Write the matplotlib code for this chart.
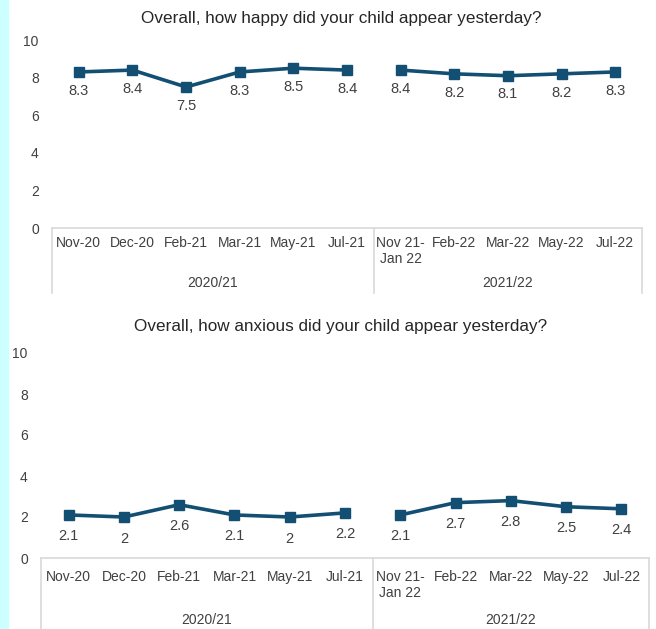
import matplotlib
matplotlib.use('Agg')
import matplotlib.pyplot as plt

plt.rcParams['font.family'] = ['Liberation Sans', 'DejaVu Sans']

# survey waves, split by school year
waves_2021 = ['Nov-20', 'Dec-20', 'Feb-21', 'Mar-21', 'May-21', 'Jul-21']
waves_2122 = ['Nov 21-\nJan 22', 'Feb-22', 'Mar-22', 'May-22', 'Jul-22']
year_labels = ['2020/21', '2021/22']

happy_2021 = [8.3, 8.4, 7.5, 8.3, 8.5, 8.4]
happy_2122 = [8.4, 8.2, 8.1, 8.2, 8.3]
anxious_2021 = [2.1, 2, 2.6, 2.1, 2, 2.2]
anxious_2122 = [2.1, 2.7, 2.8, 2.5, 2.4]

titles = ['Overall, how happy did your child appear yesterday?',
          'Overall, how anxious did your child appear yesterday?']

LINE = '#134f73'
TEXT = '#404040'
GRID = '#d9d9d9'

W, H = 656, 629
fig = plt.figure(figsize=(W / 100, H / 100), dpi=100)
fig.patch.set_facecolor('white')

# thin cyan strip down the left edge
fig.patches.append(plt.Rectangle((0, 0), 8 / W, 1, transform=fig.transFigure,
                                 color='#ccffff', zorder=0))


def draw_panel(rect_px, title, vals_a, vals_b, title_y, box_bottom_px, label_off,
               cat_y, year_y):
    left, top, right, bottom = rect_px
    ax = fig.add_axes([left / W, 1 - bottom / H, (right - left) / W, (bottom - top) / H])
    ax_h = bottom - top

    cats = waves_2021 + waves_2122
    xa = list(range(len(vals_a)))
    xb = list(range(len(vals_a), len(cats)))

    for xs, vs in ((xa, vals_a), (xb, vals_b)):
        ax.plot(xs, vs, color=LINE, lw=2.6, marker='s', ms=7, zorder=3, clip_on=False)
        for x, v in zip(xs, vs):
            ax.annotate(f'{v:g}', (x, v), xytext=(0, -label_off), textcoords='offset points',
                        ha='center', va='center', fontsize=10.5, color=TEXT)

    ax.set_xlim(-0.5, len(cats) - 0.5)
    ax.set_ylim(0, 10)
    ax.set_yticks(range(0, 11, 2))
    ax.tick_params(axis='y', length=0, labelsize=10, labelcolor=TEXT, pad=9.5)
    ax.set_xticks([])
    for s in ['top', 'right', 'left']:
        ax.spines[s].set_visible(False)
    ax.spines['bottom'].set_color(GRID)
    ax.spines['bottom'].set_linewidth(1.2)

    # category labels and year groups beneath the axis
    def fy(px):
        return -px / ax_h

    tr = ax.get_xaxis_transform()
    for i, c in enumerate(cats):
        ax.text(i, fy(cat_y - 7), c, transform=tr, ha='center', va='top', fontsize=10,
                color=TEXT, linespacing=1.15)
    box_depth = box_bottom_px - bottom
    for xline in (-0.5, len(waves_2021) - 0.5, len(cats) - 0.5):
        ax.plot([xline, xline], [0, fy(box_depth)], transform=tr, color=GRID, lw=1.2,
                clip_on=False)
    ax.text((len(waves_2021) - 1) / 2, fy(year_y), year_labels[0], transform=tr,
            ha='center', va='center', fontsize=10, color=TEXT)
    ax.text(len(waves_2021) + (len(waves_2122) - 1) / 2, fy(year_y), year_labels[1],
            transform=tr, ha='center', va='center', fontsize=10, color=TEXT)

    fig.text(341 / W, 1 - title_y / H, title, ha='center', va='center', fontsize=12.3,
             color='#262626')
    return ax


draw_panel((52, 40, 642, 228), titles[0], happy_2021, happy_2122, 18, 293, 13.5, 15, 55)
draw_panel((41, 353, 649, 558), titles[1], anxious_2021, anxious_2122, 327, 640, 15.5,
           19, 62)

fig.savefig('out.png', dpi=100)
